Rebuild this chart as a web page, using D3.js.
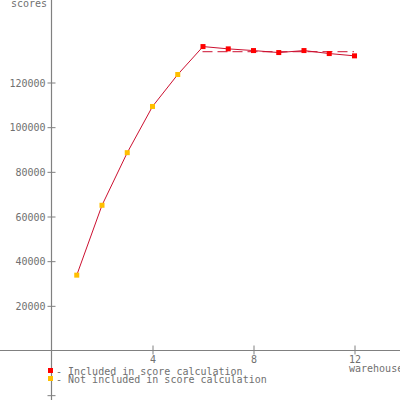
<!DOCTYPE html>
<html><head><meta charset="utf-8">
<script src="https://cdn.jsdelivr.net/npm/d3@7"></script>
<style>
html,body{margin:0;padding:0;background:#fff;}
svg{display:block;}
text{font-family:"DejaVu Sans Mono",monospace;font-size:10px;fill:#707070;}
</style></head>
<body>
<svg id="c" width="400" height="400"></svg>
<script>
const warehouses = [1,2,3,4,5,6,7,8,9,10,11,12];
const scores = [33740,65030,88580,109270,123580,136090,135060,134300,133410,134300,132960,131930];
const included = [false,false,false,false,false,true,true,true,true,true,true,true];
const xTicks = [4,8,12];
const yTicks = [-20000,20000,40000,60000,80000,100000,120000];
const legendLabels = ["- Included in score calculation","- Not included in score calculation"];
const legendColors = ["#ff0000","#ffbf00"];
const lineColor = "#cc1030";
const axisColor = "#808080";

const svg = d3.select("#c");
const x = d3.scaleLinear().domain([0,12]).range([51,354]);
const y = d3.scaleLinear().domain([0,120000]).range([350.5,82.5]);

// axes lines
svg.append("line").attr("x1",0).attr("x2",400).attr("y1",y(0)).attr("y2",y(0)).attr("stroke",axisColor).attr("stroke-width",1.2);
svg.append("line").attr("x1",x(0)+0.5).attr("x2",x(0)+0.5).attr("y1",0).attr("y2",400).attr("stroke",axisColor).attr("stroke-width",1.2);

// y axis ticks
const yAxis = svg.append("g").attr("transform",`translate(${x(0)+0.5},0)`)
  .call(d3.axisLeft(y).tickValues(yTicks).tickSize(4).tickFormat(d=>d>0?String(d):""));
yAxis.select(".domain").remove();
yAxis.selectAll(".tick line").attr("x1",-4).attr("x2",4).attr("stroke",axisColor);
yAxis.selectAll(".tick text").attr("x",-6).attr("dy","0.35em").style("font-family","DejaVu Sans Mono").style("font-size","10px").attr("fill","#707070");
yAxis.attr("font-family",null).attr("font-size",null);

// x axis ticks
const xAxis = svg.append("g").attr("transform",`translate(0.5,${y(0)})`)
  .call(d3.axisBottom(x).tickValues(xTicks).tickSize(4).tickFormat(d3.format("d")));
xAxis.select(".domain").remove();
xAxis.selectAll(".tick line").attr("y1",-5).attr("y2",4).attr("stroke",axisColor);
xAxis.selectAll(".tick text").attr("y",5).attr("dy","0.71em").style("font-family","DejaVu Sans Mono").style("font-size","10px").attr("fill","#707070");
xAxis.attr("font-family",null).attr("font-size",null);

// axis titles
svg.append("text").attr("x",47).attr("y",7).attr("text-anchor","end").text("scores");
svg.append("text").attr("x",349).attr("y",372).text("warehouses");

// mean score dashed line
const incScores = scores.filter((d,i)=>included[i]);
const incW = warehouses.filter((d,i)=>included[i]);
const mean = d3.mean(incScores);
svg.append("line").attr("x1",x(d3.min(incW))).attr("x2",x(d3.max(incW)))
  .attr("y1",y(mean)+0.5).attr("y2",y(mean)+0.5)
  .attr("stroke",lineColor).attr("stroke-width",1).attr("stroke-dasharray","10,5");

// line
const data = warehouses.map((w,i)=>({w,s:scores[i],inc:included[i]}));
svg.append("path").datum(data)
  .attr("d",d3.line().x(d=>x(d.w)+0.5).y(d=>y(d.s)))
  .attr("fill","none").attr("stroke",lineColor).attr("stroke-width",1);

// points
svg.selectAll("rect.pt").data(data).enter().append("rect").attr("class","pt")
  .attr("x",d=>x(d.w)+0.5-2.5).attr("y",d=>y(d.s)-2.5).attr("width",5).attr("height",5)
  .attr("fill",d=>d.inc?legendColors[0]:legendColors[1]);

// legend
const lg = svg.append("g");
legendLabels.forEach((t,i)=>{
  lg.append("rect").attr("x",48).attr("y",368+i*8).attr("width",5).attr("height",5).attr("fill",legendColors[i]);
  lg.append("text").attr("x",56).attr("y",375+i*8).text(t);
});
</script>
</body></html>
